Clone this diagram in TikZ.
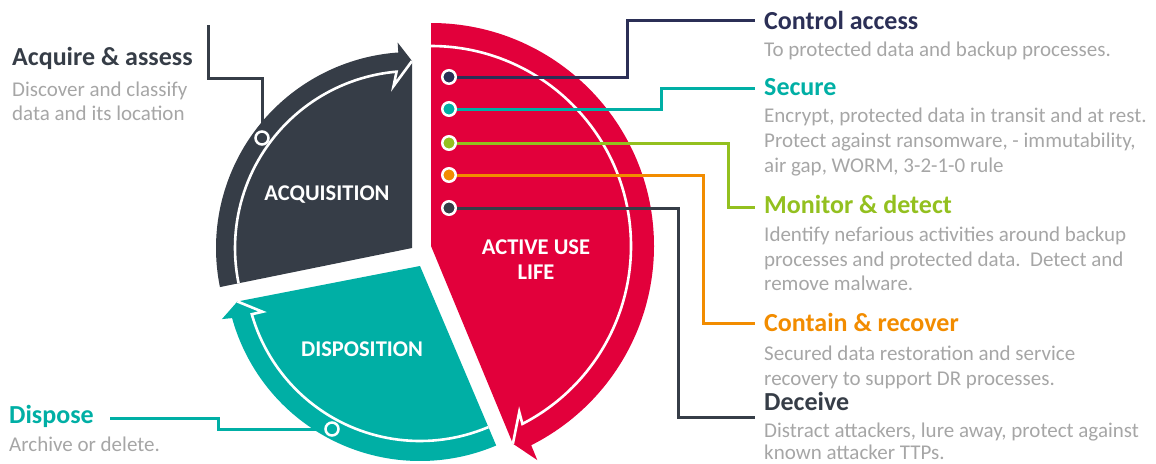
\documentclass[tikz,border=0pt]{standalone}
\usepackage{fontspec}
\setmainfont{Carlito}
\definecolor{acq}{HTML}{363D47}
\definecolor{act}{HTML}{E2003B}
\definecolor{disp}{HTML}{00AFA5}
\definecolor{navy}{HTML}{2B2F56}
\definecolor{lime}{HTML}{93C01F}
\definecolor{amber}{HTML}{F28C00}
\definecolor{descgray}{HTML}{A6A6A6}
\pgfdeclarelayer{segs}
\pgfdeclarelayer{links}
\pgfsetlayers{segs,links,main}
\begin{document}
\begin{tikzpicture}[x=1pt,y=1pt,
  conn/.style={line width=3pt},
  wline/.style={white, line width=2.6pt, line join=miter},
  dot/.style={circle, draw=white, line width=2.5pt, minimum size=13.5pt, inner sep=0pt},
  ring/.style={circle, draw=white, line width=2.5pt, minimum size=13pt, inner sep=0pt},
  head/.style={anchor=base west, inner sep=0pt, font=\fontsize{26}{30}\selectfont\bfseries},
  desc/.style={anchor=base west, inner sep=0pt, text=descgray, font=\fontsize{21}{25}\selectfont},
  seglabel/.style={anchor=base, text=white, inner sep=0pt, font=\fontsize{22.5}{26}\selectfont\bfseries},
]
\useasboundingbox (0,0) rectangle (1156,-463);

\begin{pgfonlayer}{segs}
% acquisition segment with its clockwise arrow
\begin{scope}[shift={(412,-248)}]
  \fill[acq] (0,0) -- (191.5:196) arc[start angle=191.5, end angle=94, radius=196]
    -- (94:206) -- (90:187) -- cycle;
  \draw[wline] (191.5:177) arc[start angle=191.5, end angle=95, radius=177]
    -- (96.5:163) -- (90:187);
\end{scope}

% disposition segment
\begin{scope}[shift={(420,-266)}]
  \fill[disp] (0,0) -- (293:195) arc[start angle=293, end angle=195.5, radius=195]
    -- (195:205) -- (191:186) -- cycle;
  \draw[wline] (293:175) arc[start angle=293, end angle=196, radius=175]
    -- (196.2:164) -- (191:186);
\end{scope}

% active use life segment
\begin{scope}[shift={(431,-246)}]
  \fill[act] (0,0) -- (90:223) arc[start angle=90, end angle=-63.3, radius=223]
    -- (-63.6:239) -- (-67.5:214) -- cycle;
  \draw[wline] (90:200) arc[start angle=90, end angle=-62.8, radius=200]
    -- (-62:188) -- (-67.5:214);
\end{scope}
\end{pgfonlayer}

% segment titles
\node[seglabel] (lacq) at (327,-200) {ACQUISITION};
\node[seglabel] (ldisp) at (362,-356.5) {DISPOSITION};
\node[seglabel] (lact1) at (536,-254) {ACTIVE USE};
\node[seglabel] (lact2) at (536,-279) {LIFE};

% dots on the active segment
\node[dot, fill=navy] (d1) at (449,-77) {};
\node[dot, fill=disp] (d2) at (449,-109) {};
\node[dot, fill=lime] (d3) at (449,-143) {};
\node[dot, fill=amber] (d4) at (449,-175) {};
\node[dot, fill=acq] (d5) at (449,-208) {};

% rings on the two other arrows
\node[ring, fill=acq] (r1) at (262,-138) {};
\node[ring, fill=disp] (r2) at (332,-429) {};

% connector ends beside the headings
\coordinate (ca-end) at (755,-20);
\coordinate (se-end) at (755,-88);
\coordinate (mo-end) at (755,-207);
\coordinate (co-end) at (755,-323);
\coordinate (de-end) at (755,-417);
\coordinate (aq-end) at (208,-25);
\coordinate (dp-end) at (110,-418);

% connectors, kept beneath the dots
\begin{pgfonlayer}{links}
\draw[conn, navy] (d1.center) -- (627,-77) |- (ca-end);
\draw[conn, disp] (d2.center) -- (661,-109) |- (se-end);
\draw[conn, lime] (d3.center) -- (728,-143) |- (mo-end);
\draw[conn, amber] (d4.center) -- (703,-175) |- (co-end);
\draw[conn, acq] (d5.center) -- (678,-208) |- (de-end);
\draw[conn, acq] (aq-end) |- (262,-78) -- (r1.center);
\draw[conn, disp] (dp-end) -- (218,-418) |- (r2.center);
\end{pgfonlayer}

% right column
\node[head, text=navy] (ca-h) at (764,-29) {Control access};
\node[desc] (ca-1) at (764,-56) {To protected data and backup processes.};

\node[head, text=disp] (se-h) at (764,-95) {Secure};
\node[desc] (se-1) at (764,-122.5) {Encrypt, protected data in transit and at rest.};
\node[desc] (se-2) at (764,-147.5) {Protect against ransomware, - immutability,};
\node[desc] (se-3) at (764,-172.5) {air gap, WORM, 3-2-1-0 rule};

\node[head, text=lime] (mo-h) at (764,-213) {Monitor \& detect};
\node[desc] (mo-1) at (764,-241.5) {Identify nefarious activities around backup};
\node[desc] (mo-2) at (764,-266) {processes and protected data.\ \ Detect and};
\node[desc] (mo-3) at (764,-290.5) {remove malware.};

\node[head, text=amber] (co-h) at (764,-331.5) {Contain \& recover};
\node[desc] (co-1) at (764,-360) {Secured data restoration and service};
\node[desc] (co-2) at (764,-385) {recovery to support DR processes.};

\node[head, text=acq] (de-h) at (764,-410.5) {Deceive};
\node[desc] (de-1) at (764,-437.5) {Distract attackers, lure away, protect against};
\node[desc] (de-2) at (764,-459.5) {known attacker TTPs.};

% left column
\node[head, text=acq] (aq-h) at (12,-65.5) {Acquire \& assess};
\node[desc] (aq-1) at (12,-96.5) {Discover and classify};
\node[desc] (aq-2) at (12,-120) {data and its location};

\node[head, text=disp] (dp-h) at (9,-423) {Dispose};
\node[desc] (dp-1) at (9,-451) {Archive or delete.};
\end{tikzpicture}
\end{document}
